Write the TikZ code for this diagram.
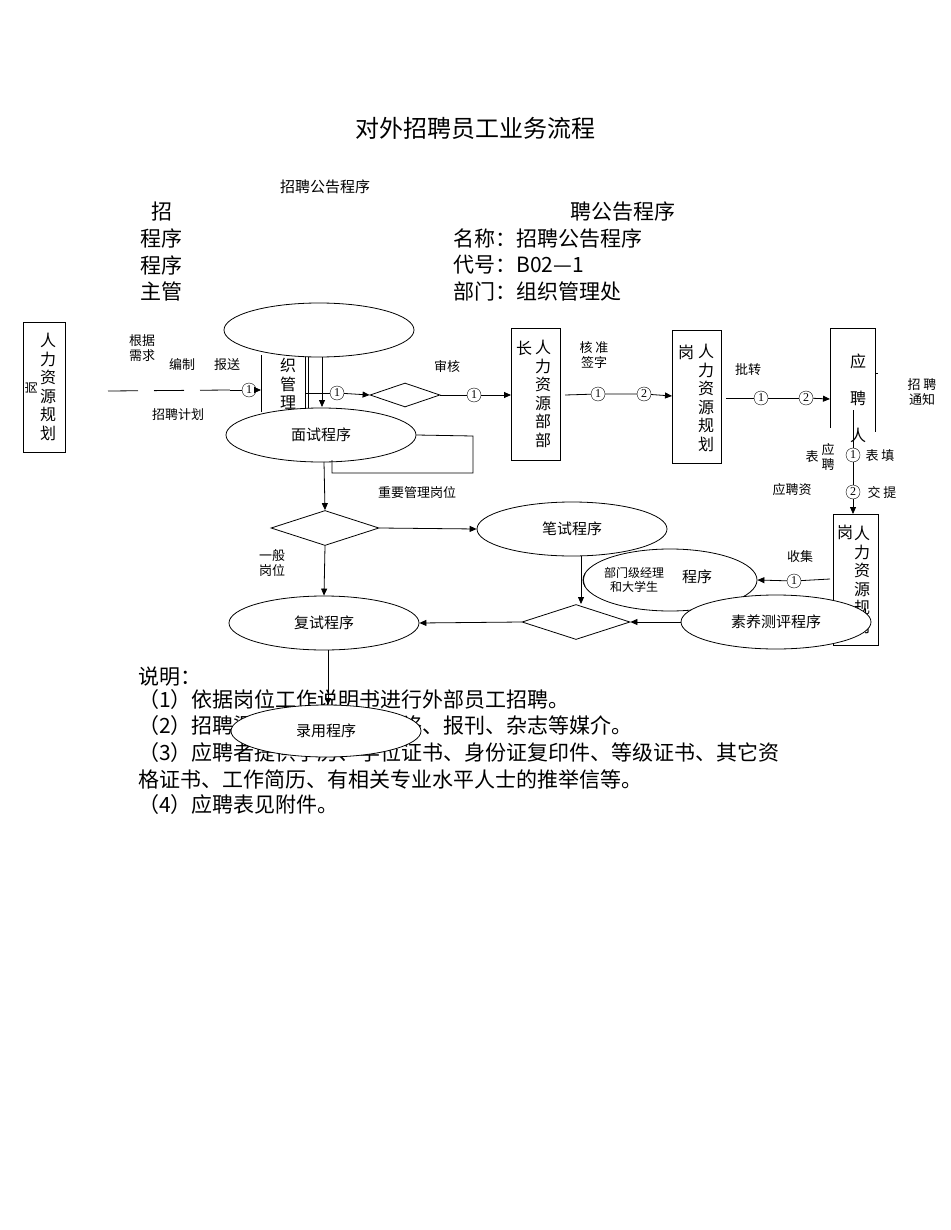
\documentclass[tikz,border=0pt]{standalone}
\usepackage{fontspec}
\setmainfont{Liberation Serif}
\newfontfamily\cjk{Noto Sans CJK SC}
\usetikzlibrary{shapes.geometric,arrows.meta}
\begin{document}
\begin{tikzpicture}[x=1pt,y=-1pt,font=\cjk,
  lbl/.style={inner sep=0pt,font=\cjk\fontsize{13}{15}\selectfont,align=center},
  big/.style={inner sep=0pt,font=\cjk\fontsize{21}{24}\selectfont,anchor=west},
  vtx/.style={inner sep=0pt,font=\cjk\fontsize{16}{18.5}\selectfont,align=center},
  box/.style={draw,line width=0.8pt,inner sep=0pt},
  ell/.style={draw,fill=white,ellipse,line width=0.8pt,minimum width=190pt,minimum height=54pt,inner sep=0pt,font=\cjk\fontsize{15}{17}\selectfont},
  dia/.style={draw,diamond,aspect=3,line width=0.8pt,inner sep=0pt},
  cn/.style={circle,draw,inner sep=0pt,minimum size=14pt,fill=white,font=\fontsize{12}{12}\selectfont},
  arr/.style={-{Triangle[length=7pt,width=6pt]},line width=0.8pt},
  ln/.style={line width=0.8pt}]
\useasboundingbox (0,0) rectangle (950,1230);
% header
\node[inner sep=0pt,font=\cjk\fontsize{24}{26}\selectfont] (title) at (475,128) {对外招聘员工业务流程};
\node[inner sep=0pt,font=\cjk\fontsize{15}{17}\selectfont] (sub) at (325,187) {招聘公告程序};
\node[big] (h0) at (151,212) {招};
\node[big] (h0b) at (570,212) {聘公告程序};
\node[big] (h1) at (140,239) {程序};
\node[big] (h2) at (140,265) {程序};
\node[big] (h3) at (140,291) {主管};
\node[big] (r1) at (453,239) {名称：招聘公告程序};
\node[big] (r2) at (453,265) {代号：B02—1};
\node[big] (r3) at (453,291) {部门：组织管理处};
% left box
\draw[box] (23,322) rectangle (65,452);
\node[vtx] (hr1) at (48,387) {人\\力\\资\\源\\规\\划};
\node[lbl,rotate=90] (g1) at (32,388) {岗};
\draw[ln,dash pattern=on 30pt off 16pt] (108,391) -- (230,390);
\node[lbl] (l1) at (142,348) {根据\\需求};
\node[lbl] (l2) at (182,365) {编制};
\node[lbl] (l3) at (227,365) {报送};
\node[lbl] (l4) at (178,415) {招聘计划};
% org box
\draw[box] (261,412) -- (261,355) (305,355) -- (305,412);
\draw[ln] (308,355) -- (308,410);
\node[vtx] (org) at (288,384) {织\\管\\理};
\node[cn] (c0) at (249,390) {1};
\draw[arr] (230,390) -- (c0) -- (261,390);
\node[ell] (top) at (319,330) {};
\draw[arr] (322,357) -- (322,407);
\node[cn] (c1) at (337,393) {1};
\node[dia,minimum width=70pt,minimum height=24pt] (d1) at (405,395) {};
\draw[ln] (305,393) -- (c1);
\draw[arr] (c1) -- (d1.west);
\node[lbl] (sh) at (447,367) {审核};
% box2
\draw[box] (511,328) rectangle (560,460);
\node[vtx] (b2) at (543,394) {人\\力\\资\\源\\部\\部};
\node[vtx] (b2z) at (524,348) {长};
\node[cn] (c2) at (474,395) {1};
\draw[ln] (d1.east) -- (c2);
\draw[arr] (c2) -- (511,395);
\node[lbl] (hz) at (594,355) {核 准\\签字};
\node[cn] (c3) at (598,394) {1};
\node[cn] (c4) at (644,394) {2};
\draw[ln] (565,395) -- (c3) -- (c4);
\draw[arr] (c4) -- (672,396);
% box3
\draw[box] (672,330) rectangle (721,463);
\node[vtx] (b3) at (706,398) {人\\力\\资\\源\\规\\划};
\node[vtx] (b3g) at (686,352) {岗};
\node[lbl] (pz) at (748,370) {批转};
\node[cn] (c5) at (761,398) {1};
\node[cn] (c6) at (806,398) {2};
\draw[ln] (726,398) -- (c5) -- (c6);
\draw[arr] (c6) -- (830,399);
% box4
\draw[box] (830,428) -- (830,328) -- (875,328) -- (875,432);
\draw[ln] (875,373) -- (878,373);
\node[vtx] (b4) at (858,398) {应\\\\聘\\\\人};
\node[lbl] (tz) at (922,392) {招\ 聘\\通知};
\node[cn] (c7) at (853,455) {1};
\node[cn] (c8) at (853,492) {2};
\draw[ln] (853,410) -- (c7) -- (c8);
\draw[arr] (c8) -- (853,514);
\node[lbl] (bt) at (880,456) {表 填};
\node[lbl] (jt) at (882,493) {交 提};
\node[lbl] (yp) at (828,457) {应\\聘};
\node[lbl] (yb) at (812,457) {表};
\node[lbl] (ypz) at (792,490) {应聘资};
% box5
\draw[box] (833,514) rectangle (878,645);
\node[vtx] (b5) at (862,580) {人\\力\\资\\源\\规\\划};
\node[vtx] (b5g) at (845,532) {岗};
% ellipses middle
\node[ell] (bs) at (572,529) {笔试程序};
\node[ell,minimum width=174pt,minimum height=62pt] (bm) at (670,580) {};
\node[inner sep=0pt,font=\cjk\fontsize{12}{14}\selectfont,align=center] (bmt) at (634,580) {部门级经理\\和大学生};
\node[inner sep=0pt,font=\cjk\fontsize{15}{17}\selectfont] (bmt2) at (697,577) {程序};
\node[lbl] (par) at (584,580) {(};
\node[lbl] (sj) at (800,557) {收集};
\node[cn] (c9) at (794,581) {1};
\draw[ln] (830,579) -- (c9);
\draw[arr] (c9) -- (bm.east);
\node[ell] (ms) at (321,435) {面试程序};
\draw[ln] (ms.east) -- (473,436) -- (473,473) -- (332,473) -- (332,460);
\node[dia,minimum width=108pt,minimum height=35pt] (d2) at (325,528) {};
\draw[arr] (324,462) -- (d2.north);
\node[lbl] (zy) at (417,493) {重要管理岗位};
\draw[arr] (d2.east) -- (bs.west);
\node[lbl] (yb2) at (272,563) {一般\\岗位};
\node[ell] (fs) at (324,623) {复试程序};
\draw[arr] (d2.south) -- (fs.north);
\node[dia,minimum width=108pt,minimum height=35pt] (d3) at (576,622) {};
\draw[arr] (581,556) -- (581,604);
\node[ell] (sy) at (776,622) {素养测评程序};
\draw[arr] (sy.west) -- (d3.east);
\draw[arr] (d3.west) -- (fs.east);
% notes
\begin{scope}[every node/.style={inner sep=0pt,anchor=west,font=\cjk\fontsize{21}{24}\selectfont}]
\node (n0) at (138,677) {说明：};
\node (n1) at (138,700) {（1）依据岗位工作说明书进行外部员工招聘。};
\node (n2) at (138,726) {（2）招聘渠道包括电视、网络、报刊、杂志等媒介。};
\node (n3) at (138,753) {（3）应聘者提供学历、学位证书、身份证复印件、等级证书、其它资};
\node (n4) at (138,779) {格证书、工作简历、有相关专业水平人士的推举信等。};
\node (n5) at (138,805) {（4）应聘表见附件。};
\end{scope}
\node[ell,minimum width=190pt,minimum height=52pt] (ly) at (326,731) {录用程序};
\draw[arr] (fs.south) ++(4,0) -- (328,705);
\end{tikzpicture}
\end{document}
